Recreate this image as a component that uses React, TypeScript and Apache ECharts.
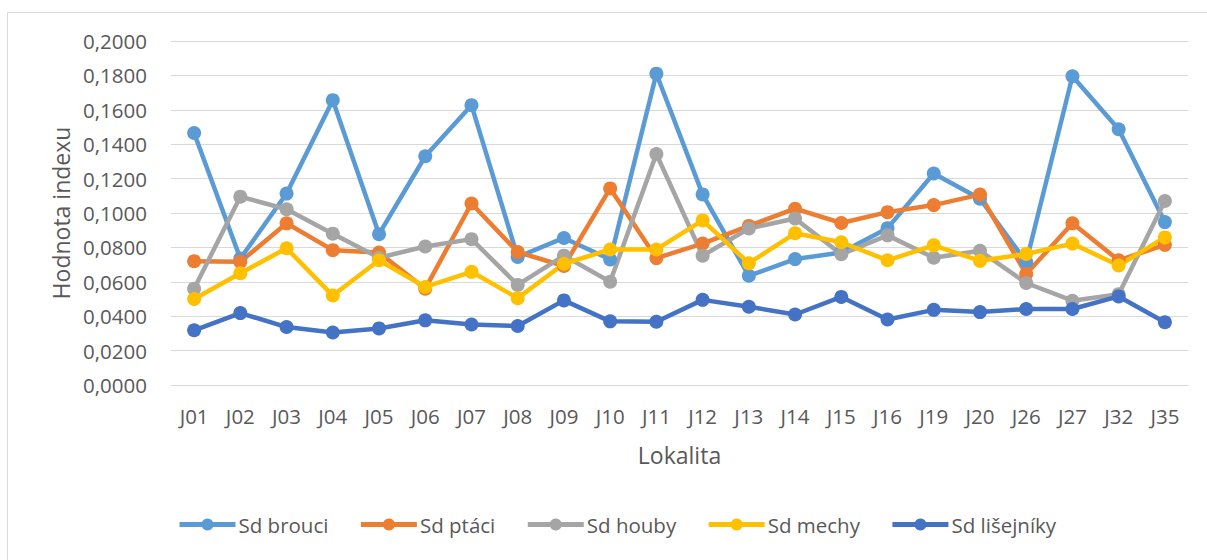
import React, { useEffect, useRef } from "react";
import * as echarts from "echarts";

const categories = ["J01","J02","J03","J04","J05","J06","J07","J08","J09","J10","J11","J12","J13","J14","J15","J16","J19","J20","J26","J27","J32","J35"];
const brouci = [0.1465,0.0735,0.1113,0.1656,0.0877,0.1330,0.1627,0.0744,0.0855,0.0730,0.1810,0.1108,0.0635,0.0732,0.0770,0.0912,0.1230,0.1083,0.0715,0.1795,0.1487,0.0947];
const ptaci = [0.0720,0.0716,0.0940,0.0784,0.0770,0.0560,0.1055,0.0773,0.0692,0.1143,0.0738,0.0822,0.0925,0.1025,0.0942,0.1005,0.1046,0.1107,0.0645,0.0940,0.0725,0.0815];
const houby = [0.0560,0.1095,0.1022,0.0880,0.0740,0.0805,0.0848,0.0582,0.0752,0.0600,0.1343,0.0752,0.0910,0.0968,0.0760,0.0870,0.0740,0.0780,0.0593,0.0490,0.0528,0.1070];
const mechy = [0.0500,0.0650,0.0795,0.0520,0.0725,0.0570,0.0658,0.0505,0.0705,0.0788,0.0788,0.0957,0.0708,0.0882,0.0830,0.0725,0.0812,0.0722,0.0762,0.0822,0.0695,0.0858];
const lisejniky = [0.0318,0.0418,0.0337,0.0305,0.0329,0.0376,0.0352,0.0343,0.0492,0.0370,0.0368,0.0495,0.0455,0.0410,0.0512,0.0381,0.0437,0.0424,0.0442,0.0442,0.0515,0.0365];

const seriesNames = ["Sd brouci", "Sd ptáci", "Sd houby", "Sd mechy", "Sd lišejníky"];
const seriesData = [brouci, ptaci, houby, mechy, lisejniky];
const colors = ["#5B9BD5", "#ED7D31", "#A5A5A5", "#FFC000", "#4472C4"];

const FONT = "'Open Sans', 'Noto Sans', sans-serif";

export default function App() {
  const ref = useRef<HTMLDivElement>(null);
  useEffect(() => {
    if (!ref.current) return;
    const chart = echarts.init(ref.current, null, { renderer: "svg" });
    chart.setOption({
      animation: false,
      backgroundColor: "#ffffff",
      color: colors,
      textStyle: { fontFamily: FONT },
      graphic: [
        {
          type: "rect",
          shape: { x: 7.5, y: 12.5, width: 1300, height: 700 },
          style: { fill: "none", stroke: "#D9D9D9", lineWidth: 1 },
          silent: true,
        },
      ],
      grid: { left: 171, right: 19, top: 41, bottom: 175, containLabel: false },
      legend: {
        top: 509,
        left: 172,
        itemWidth: 56,
        itemHeight: 15,
        itemGap: 30,
        lineStyle: { width: 5 },
        textStyle: { fontFamily: FONT, fontSize: 20.5, color: "#595959", padding: [0, 0, 0, -2] },
        data: seriesNames,
      },
      xAxis: {
        type: "category",
        data: categories,
        boundaryGap: true,
        name: "Lokalita",
        nameLocation: "middle",
        nameGap: 58,
        nameTextStyle: { fontFamily: FONT, fontSize: 23, color: "#595959", verticalAlign: "top" },
        axisLine: { show: true, lineStyle: { color: "#D9D9D9", width: 1 } },
        axisTick: { show: false },
        axisLabel: { fontFamily: FONT, fontSize: 20.5, color: "#595959", margin: 20 },
      },
      yAxis: {
        type: "value",
        min: 0,
        max: 0.2,
        interval: 0.02,
        name: "Hodnota indexu",
        nameLocation: "middle",
        nameGap: 99,
        nameTextStyle: { fontFamily: FONT, fontSize: 23, color: "#595959" },
        axisLine: { show: false },
        axisTick: { show: false },
        splitLine: { lineStyle: { color: "#D9D9D9", width: 1 } },
        axisLabel: {
          fontFamily: FONT,
          fontSize: 20.5,
          color: "#595959",
          margin: 24,
          formatter: (v: number) => v.toFixed(4).replace(".", ","),
        },
      },
      series: seriesNames.map((name, i) => ({
        name,
        type: "line",
        data: seriesData[i],
        symbol: "circle",
        symbolSize: 14,
        lineStyle: { width: 4.5, color: colors[i] },
        itemStyle: { color: colors[i] },
        emphasis: { disabled: true },
      })),
    });
    return () => chart.dispose();
  }, []);
  return (
    <div
      ref={ref}
      style={{ position: "fixed", left: 0, top: 0, width: 1207, height: 560, background: "#fff" }}
    />
  );
}
